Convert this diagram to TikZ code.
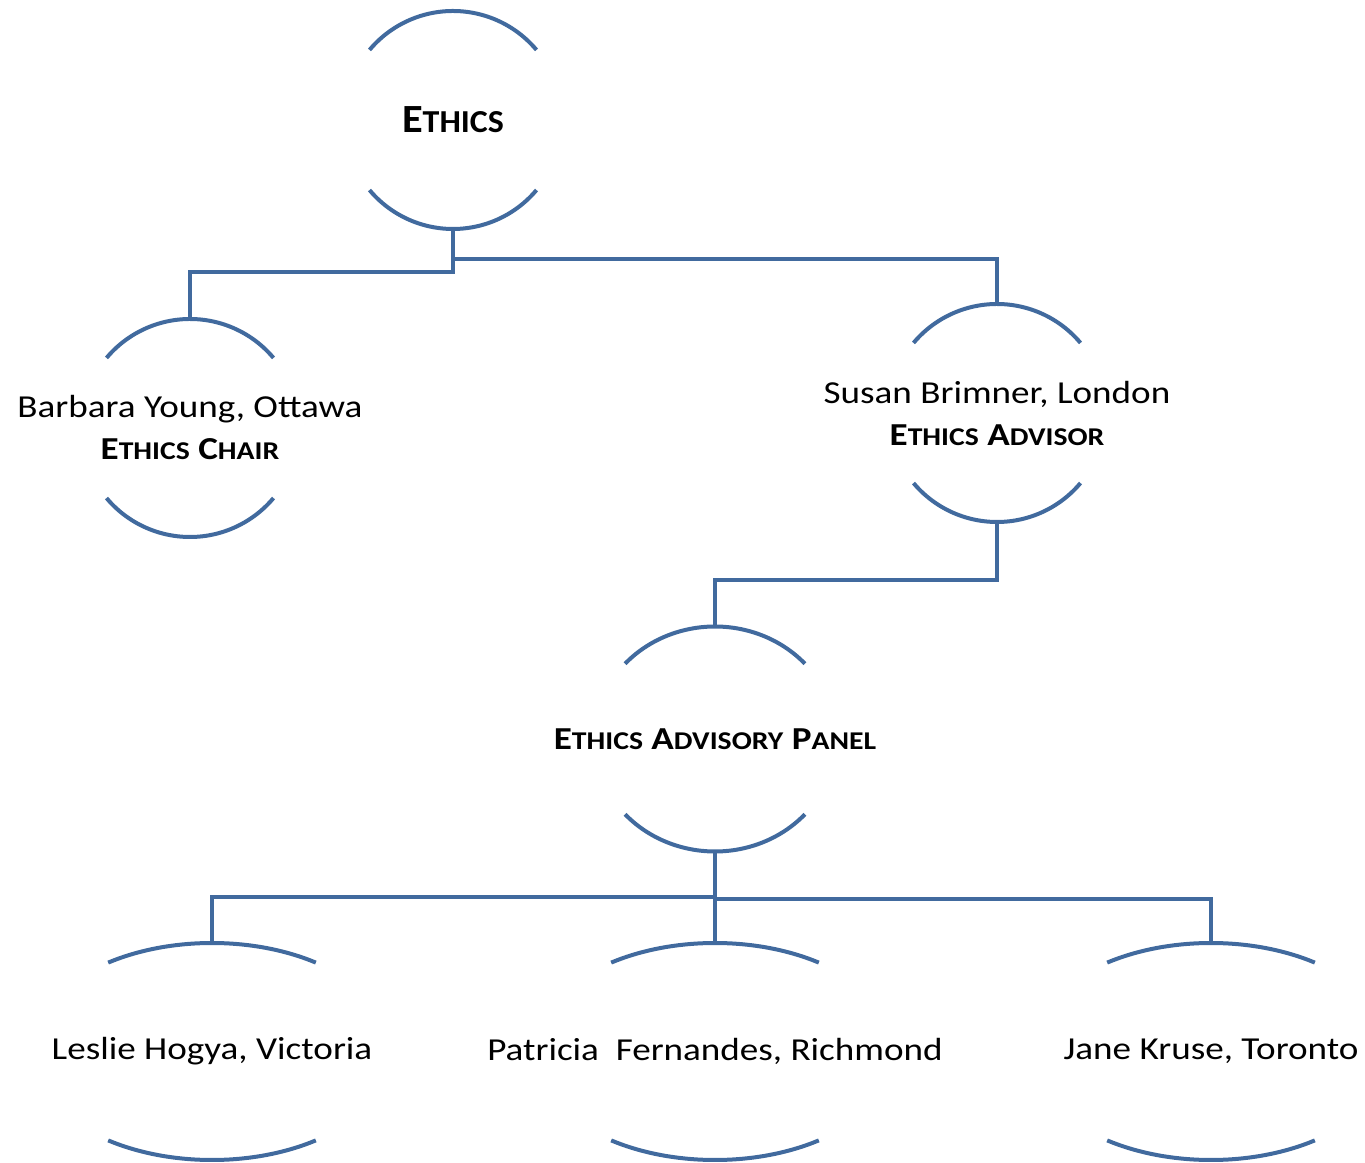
\documentclass[tikz,border=0pt]{standalone}
\usepackage{fontspec}
\setmainfont{Carlito}[FakeStretch=1.16]
\newfontfamily\titlefont{Carlito}[FakeStretch=1.06]
\usetikzlibrary{calc}
\definecolor{orgblue}{RGB}{65,106,158}
\newcommand\smA[1]{{\fontsize{25.6}{30}\selectfont #1}}
\newcommand\smB[1]{{\fontsize{32}{36}\selectfont #1}}
% #1 node, #2 x radius, #3 y radius, #4 start angle
\newcommand\orgarcs[4]{%
  \draw[arcline] ($(#1.center)+(#4:#2pt and #3pt)$) arc[start angle=#4, end angle=180-#4, x radius=#2pt, y radius=#3pt];
  \draw[arcline] ($(#1.center)+(180+#4:#2pt and #3pt)$) arc[start angle=180+#4, end angle=360-#4, x radius=#2pt, y radius=#3pt];}
\begin{document}
\begin{tikzpicture}[x=1pt,y=1pt,
  org/.style={inner sep=0pt, align=center, font=\fontsize{32}{42}\selectfont},
  arcline/.style={draw=orgblue, line width=4pt},
  conn/.style={draw=orgblue, line width=4pt}]
\useasboundingbox (0,0) rectangle (1365,1162);
\node[org, minimum height=218pt, font=\titlefont\fontsize{40}{48}\selectfont] (ethics) at (453,1042) {\textbf{E\smB{THICS}}};
\node[org, minimum height=218pt] (barbara) at (190,734) {Barbara Young, Ottawa\\\textbf{E\smA{THICS} C\smA{HAIR}}};
\node[org, minimum height=218pt] (susan) at (997,749) {Susan Brimner, London\\\textbf{E\smA{THICS} A\smA{DVISOR}}};
\node[org, minimum height=225pt] (panel) at (715,423) {\textbf{E\smA{THICS} A\smA{DVISORY} P\smA{ANEL}}};
\node[org, minimum height=217pt] (leslie) at (212,110.5) {Leslie Hogya, Victoria};
\node[org, minimum height=217pt] (patricia) at (715,110.5) {Patricia\ \ Fernandes, Richmond};
\node[org, minimum height=217pt] (jane) at (1211,110.5) {Jane Kruse, Toronto};
\orgarcs{ethics}{109}{109}{40}
\orgarcs{barbara}{109}{109}{40}
\orgarcs{susan}{109}{109}{40}
\orgarcs{panel}{121}{112.5}{42}
\orgarcs{leslie}{181}{108.5}{55}
\orgarcs{patricia}{181}{108.5}{55}
\orgarcs{jane}{181}{108.5}{55}
\draw[conn] (ethics.south) |- ([yshift=47pt]barbara.north) -- (barbara.north);
\draw[conn] (ethics.south) |- ([yshift=45pt]susan.north) -- (susan.north);
\draw[conn] (susan.south) |- ([yshift=46pt]panel.north) -- (panel.north);
\draw[conn] (panel.south) |- ([yshift=46pt]leslie.north) -- (leslie.north);
\draw[conn] (panel.south) -- (patricia.north);
\draw[conn] (panel.south) |- ([yshift=44pt]jane.north) -- (jane.north);
\end{tikzpicture}
\end{document}
